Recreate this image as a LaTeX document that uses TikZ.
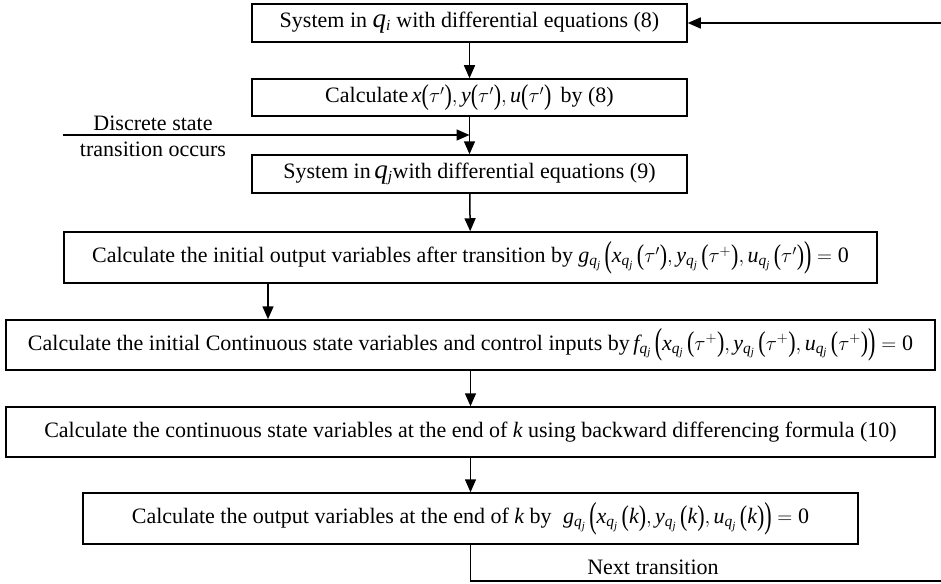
\documentclass[tikz,border=0pt]{standalone}
\usepackage{mathspec}
\setmainfont{Liberation Serif}
\setmathsfont(Digits,Latin){Liberation Serif}
\usetikzlibrary{arrows.meta}
\newcommand\lpi{\mathopen{\raisebox{-0.07em}{\scalebox{1}[1.3]{(}}}}
\newcommand\rpi{\mathclose{\raisebox{-0.07em}{\scalebox{1}[1.3]{)}}}}
\newcommand\lpo{\mathopen{\raisebox{-0.16em}{\scalebox{1}[1.65]{(}}}}
\newcommand\rpo{\mathclose{\raisebox{-0.16em}{\scalebox{1}[1.65]{)}}}}
\begin{document}
\begin{tikzpicture}[x=1pt,y=-1pt,
  box/.style={draw, line width=1.5pt, inner sep=0pt, align=center, font=\fontsize{22}{26}\selectfont},
  arr/.style={line width=1.5pt, -{Triangle[length=13pt,width=11pt]}},
  plain/.style={line width=1.5pt},
  lbl/.style={inner sep=0pt, font=\fontsize{22}{26}\selectfont}]
\useasboundingbox (0,0) rectangle (941,583);
\node[box, minimum width=435pt, minimum height=38pt] (b1) at (469.5,23)
  {System in {\fontsize{27}{28}\selectfont$q$}$_i$ with differential equations (8)};
\node[box, minimum width=435pt, minimum height=37pt] (b2) at (469.5,97.5)
  {Calculate\,$x\lpi\tau'\rpi,y\lpi\tau'\rpi,u\lpi\tau'\rpi$\, by (8)};
\node[box, minimum width=435pt, minimum height=38pt] (b3) at (469.5,174)
  {System in\,{\fontsize{27}{28}\selectfont$q$}$_j$with differential equations (9)};
\node[box, minimum width=813pt, minimum height=51pt] (b4) at (470.5,257.5)
  {Calculate the initial output variables after transition by $g_{q_j}\,\lpo x_{q_j}\,\lpi\tau'\rpi,y_{q_j}\,\lpi\tau^{+}\rpi,u_{q_j}\,\lpi\tau'\rpi\rpo=0$};
\node[box, minimum width=929pt, minimum height=50pt] (b5) at (470.5,345)
  {Calculate the initial Continuous state variables and control inputs by\,$f_{q_j}\,\lpo x_{q_j}\,\lpi\tau^{+}\rpi,y_{q_j}\,\lpi\tau^{+}\rpi,u_{q_j}\,\lpi\tau^{+}\rpi\rpo=0$};
\node[box, minimum width=929pt, minimum height=50pt] (b6) at (470.5,432)
  {Calculate the continuous state variables at the end of $k$ using backward differencing formula (10)};
\node[box, minimum width=775pt, minimum height=51pt] (b7) at (470.5,518.5)
  {Calculate the output variables at the end of $k$ by \;$g_{q_j}\,\lpo x_{q_j}\,\lpi k\rpi,y_{q_j}\,\lpi k\rpi,u_{q_j}\,\lpi k\rpi\rpo=0$};
\node[lbl] (t1) at (153,123) {Discrete state};
\node[lbl] (t2) at (153,149) {transition occurs};
\node[lbl] (t3) at (653,567) {Next transition};
\coordinate (ds) at (63,135);
\coordinate (fb) at (941,23);
\coordinate (nt) at (941,581);
\coordinate (a45) at (268,283);
\draw[arr] (b1) -- (b2);
\draw[arr] (b2) -- (b3);
\draw[arr] (ds) -- (ds -| b2.south);
\draw[arr] (b3) -- (b4);
\draw[arr] (a45) -- (a45 |- b5.north);
\draw[arr] (b5) -- (b6);
\draw[arr] (b6) -- (b7);
\draw[arr] (fb) -- (b1.east);
\draw[plain] (b7.south) -- (b7.south |- nt) -- (nt);
\end{tikzpicture}
\end{document}
